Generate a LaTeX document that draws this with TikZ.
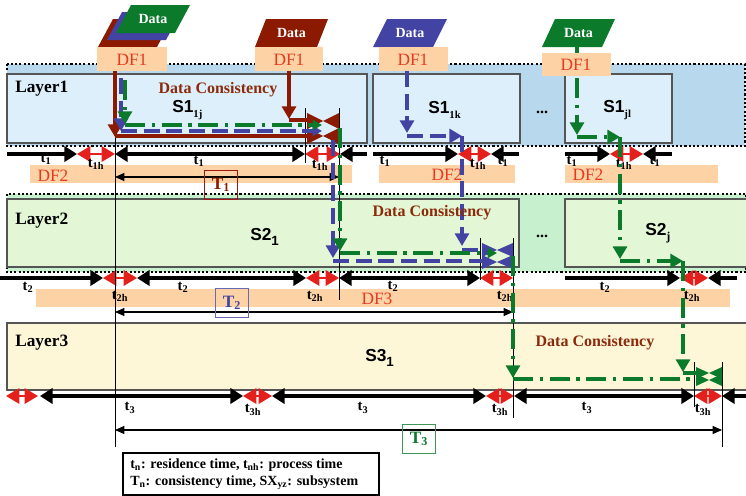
\documentclass[tikz,border=0pt]{standalone}
\usepackage{fontspec}
\setmainfont{Liberation Serif}
\setsansfont{Liberation Sans}
\usetikzlibrary{arrows.meta}
\definecolor{dred}{HTML}{8B1A00}
\definecolor{dblue}{HTML}{4343A3}
\definecolor{dgreen}{HTML}{0B7A2B}
\definecolor{peach}{HTML}{FDD3A6}
\definecolor{dftext}{HTML}{E8391F}
\definecolor{tred}{HTML}{E3201B}
\definecolor{lonebg}{HTML}{B8D8EE}
\definecolor{lonebox}{HTML}{DDEFFA}
\definecolor{ltwobg}{HTML}{C6F0CE}
\definecolor{ltwobox}{HTML}{E3F6D5}
\definecolor{lthree}{HTML}{FDF6D7}
\definecolor{dctext}{HTML}{8B2B0B}
\definecolor{boxline}{HTML}{555555}
\newcommand\tlb[1]{t\textsubscript{#1}}
\newcommand\mybow[6]{%
  \fill[#1] (#2,#5-#6) -- (#3,#5) -- (#2,#5+#6) -- cycle;
  \fill[#1] (#4,#5-#6) -- (#3,#5) -- (#4,#5+#6) -- cycle;}
\newcommand\datashape[5]{% color, bx, by, w, s
  \fill[#1] (#2,#3) -- (#2+#4,#3) -- (#2+#4+#5,#3-28) -- (#2+#5,#3-28) -- cycle;}
\newcommand\datapg[6]{% color, bx, by, w, s, name
  \datashape{#1}{#2}{#3}{#4}{#5}
  \node[datatxt] (#6) at (#2+#4/2+#5/2,#3-14) {Data};}
\begin{document}
\begin{tikzpicture}[x=0.75pt,y=-0.75pt,
  bk/.tip={Triangle[length=9.5pt,width=11.5pt]},
  rd/.tip={Triangle[length=10pt,width=11.5pt]},
  fh/.tip={Triangle[length=9.5pt,width=10.5pt]},
  sh/.tip={Triangle[length=7pt,width=7.5pt]},
  th/.tip={Triangle[length=7pt,width=6pt]},
  tline/.style={line width=2.6pt,black},
  rarr/.style={tred,line width=1.6pt,{rd}-{rd}},
  vline/.style={black,line width=0.6pt},
  band/.style={line width=1.6pt,dash pattern=on 1.6pt off 1.6pt},
  lbox/.style={draw=boxline,line width=0.8pt},
  tlab/.style={font=\bfseries\fontsize{11}{11}\selectfont,inner sep=0pt},
  dftx/.style={text=dftext,font=\fontsize{13}{13}\selectfont,inner sep=0pt},
  datatxt/.style={text=white,font=\bfseries\fontsize{10.5}{10.5}\selectfont,inner sep=0pt},
  laytx/.style={font=\bfseries\fontsize{13}{13}\selectfont,anchor=west,inner sep=0pt},
  dctx/.style={text=dctext,font=\bfseries\fontsize{12}{12}\selectfont,inner sep=0pt},
  stx/.style={font=\bfseries\fontsize{13}{13}\selectfont,anchor=west,inner sep=0pt},
  redflow/.style={dred,line width=2.6pt},
  blueflow/.style={dblue,line width=2.6pt,dash pattern=on 12pt off 5pt},
  greenflow/.style={dgreen,line width=2.6pt,dash pattern=on 15pt off 5pt on 2.5pt off 5pt},
  tbox/.style={line width=0.8pt,minimum width=25pt,minimum height=22pt,inner sep=0pt,font=\bfseries\fontsize{13}{13}\selectfont}
]
\useasboundingbox (0,0) rectangle (746,496);
% ---- Layer 1
\fill[lonebg] (7,64) rectangle (745,146);
\draw[band] (7,64) rectangle (745,146);
\filldraw[lonebox,lbox] (7,74) rectangle (367,143);
\filldraw[lonebox,lbox] (373,74) rectangle (520,143);
\filldraw[lonebox,lbox] (565,74) rectangle (672,143);
% ---- Layer 2
\fill[ltwobg] (7,194) rectangle (746,272);
\draw[band] (7,194) rectangle (746,272);
\filldraw[ltwobox,lbox] (7,199) rectangle (519,267);
\filldraw[ltwobox,lbox] (565,199) rectangle (748,267);
% ---- Layer 3
\filldraw[lthree,lbox] (7,323) rectangle (748,390);
% ---- DF bars
\fill[peach] (30,165) rectangle (352,183);
\fill[peach] (379,165) rectangle (515,183);
\fill[peach] (565,165) rectangle (718,183);
\fill[peach] (36,289) rectangle (730,307);
\node[dftx] (df2a) at (53,176) {DF2};
\node[dftx] (df2b) at (447,175) {DF2};
\node[dftx] (df2c) at (588,175) {DF2};
\node[dftx] (df3) at (377,299) {DF3};
% ---- timeline row 1
\draw[tline,-bk] (7,154) -- (77,154);
\draw[rarr] (77,154) -- (115,154);
\draw[tline,bk-bk] (115,154) -- (305,154);
\draw[rarr] (305,154) -- (340,154);
\draw[tline,bk-] (340,154) -- (367,154);
\draw[tline,-bk] (373,154) -- (458,154);
\draw[rarr] (458,154) -- (491,154);
\draw[tline,bk-] (491,154) -- (519,154);
\draw[tline,-bk] (565,154) -- (610,154);
\draw[rarr] (610,154) -- (643,154);
\draw[tline,bk-] (643,154) -- (672,154);
% ---- timeline row 2
\draw[tline,-bk] (0,278) -- (103,278);
\draw[rarr] (103,278) -- (137,278);
\draw[tline,bk-bk] (137,278) -- (306,278);
\draw[rarr] (306,278) -- (339,278);
\draw[tline,bk-bk] (339,278) -- (480,278);
\draw[rarr] (480,278) -- (513,278);
\draw[tline,-bk] (565,278) -- (680,278);
\draw[rarr] (680,278) -- (708,278);
\draw[tline,bk-] (708,278) -- (737,278);
% ---- timeline row 3
\draw[rarr] (6,396) -- (38,396);
\draw[tline,bk-bk] (40,396) -- (243,396);
\draw[rarr] (243,396) -- (272,396);
\draw[tline,bk-bk] (272,396) -- (486,396);
\draw[rarr] (486,396) -- (514,396);
\draw[tline,bk-bk] (514,396) -- (694,396);
\draw[rarr] (694,396) -- (722,396);
\draw[tline,bk-] (722,396) -- (748,396);
% ---- labels row 1
\node[tlab] at (46,159) {\tlb{1}};
\node[tlab] at (96,164) {\tlb{1h}};
\node[tlab] at (199,161) {\tlb{1}};
\node[tlab] at (320,165) {\tlb{1h}};
\node[tlab] at (385,161) {\tlb{1}};
\node[tlab] at (478,164) {\tlb{1h}};
\node[tlab] at (503,161) {\tlb{1}};
\node[tlab] at (572,161) {\tlb{1}};
\node[tlab] at (624,164) {\tlb{1h}};
\node[tlab] at (655,161) {\tlb{1}};
% ---- labels row 2
\node[tlab] at (28,287) {\tlb{2}};
\node[tlab] at (120,296) {\tlb{2h}};
\node[tlab] at (183,287) {\tlb{2}};
\node[tlab] at (315,296) {\tlb{2h}};
\node[tlab] at (393,286) {\tlb{2}};
\node[tlab] at (505,296) {\tlb{2h}};
\node[tlab] at (605,287) {\tlb{2}};
\node[tlab] at (692,296) {\tlb{2h}};
% ---- labels row 3
\node[tlab] at (130,408) {\tlb{3}};
\node[tlab] at (253,410) {\tlb{3h}};
\node[tlab] at (363,408) {\tlb{3}};
\node[tlab] at (500,410) {\tlb{3h}};
\node[tlab] at (587,408) {\tlb{3}};
\node[tlab] at (703,410) {\tlb{3h}};
% ---- thin verticals
\draw[vline] (115,134) -- (115,447);
\draw[vline] (305,108) -- (305,163);
\draw[vline] (339,108) -- (339,300);
\draw[vline] (480,238) -- (480,280);
\draw[vline] (513,238) -- (513,418);
\draw[vline] (694,362) -- (694,407);
\draw[vline] (722,362) -- (722,447);
% ---- consistency-time arrows
\draw[line width=0.8pt,th-th] (115,177) -- (339,177);
\draw[line width=0.8pt,th-th] (115,312) -- (513,312);
\draw[line width=0.8pt,th-th] (115,430) -- (722,430);
\node[tbox,draw=tred!70!black,text=dred] (T1) at (221,185) {T\textsubscript{1}};
\node[tbox,draw=dblue!80,text=dblue] (T2) at (232,303) {T\textsubscript{2}};
\node[tbox,draw=dgreen!80,text=dgreen] (T3) at (419,439) {T\textsubscript{3}};
% ---- data flows: group 1
\draw[redflow,-fh] (115,71) -- (115,137);
\draw[redflow] (115,136) -- (308,136);
\draw[redflow,-fh] (289,71) -- (289,119);
\draw[redflow] (289,120) -- (308,120);
\mybow{dred}{307}{323}{339}{121}{8}
\mybow{dred}{307}{323}{339}{136}{8}
\draw[blueflow,-fh] (121,78) -- (121,131);
\draw[blueflow,-sh] (121,131) -- (322,131);
\draw[greenflow,-fh] (125,80) -- (125,124);
\draw[greenflow,-sh] (125,125) -- (322,125);
\draw[blueflow,-fh] (333,140) -- (333,258);
\draw[blueflow] (333,261) -- (483,261);
\draw[greenflow,-fh] (340,128) -- (340,251);
% group 2 blue
\draw[blueflow,-fh] (407,71) -- (407,133);
\draw[blueflow,-fh] (407,136) -- (462,136);
\draw[blueflow,-fh] (462,136) -- (462,246);
\draw[blueflow] (462,250) -- (483,250);
\mybow{dblue}{482}{497}{513}{250}{7}
\mybow{dblue}{482}{497}{513}{262}{7}
\draw[greenflow,-sh] (340,253) -- (497,253);
% green continues to layer 3
\draw[greenflow,-fh] (513,256) -- (513,378);
\draw[greenflow] (513,379) -- (697,379);
% group j green
\draw[dgreen,line width=2.4pt] (577,47) -- (577,53);
\draw[greenflow,-fh] (577,78) -- (577,135);
\draw[greenflow,-fh] (577,137) -- (620,137);
\draw[greenflow,-fh] (620,137) -- (620,259);
\draw[greenflow,-fh] (620,261) -- (683,261);
\draw[greenflow,-fh] (683,261) -- (683,372);
\draw[greenflow] (683,373) -- (697,373);
\mybow{dgreen}{696}{709}{722}{373}{6}
\mybow{dgreen}{696}{709}{722}{380}{6}
% ---- Data parallelograms
\datashape{dred}{98}{47}{59}{15}
\datashape{dblue}{107}{40}{59}{15}
\datapg{dgreen}{116}{33}{59}{15}{d1}
\datapg{dred}{255}{47}{62}{11}{d2}
\datapg{dblue}{373}{47}{60}{14}{d3}
\datapg{dgreen}{542}{47}{60}{13}{d4}
% ---- DF1 boxes
\fill[peach] (97,47) rectangle (167,71);
\fill[peach] (255,47) rectangle (323,71);
\fill[peach] (379,47) rectangle (448,71);
\fill[peach] (542,53) rectangle (611,76);
\node[dftx] (f1) at (132,60) {DF1};
\node[dftx] (f2) at (289,60) {DF1};
\node[dftx] (f3) at (413,60) {DF1};
\node[dftx] (f4) at (576,65) {DF1};
% ---- texts
\node[laytx] (L1) at (15,89) {Layer1};
\node[laytx] (L2) at (15,221) {Layer2};
\node[laytx] (L3) at (15,343) {Layer3};
\node[dctx] (dc1) at (218,90) {Data Consistency};
\node[dctx] (dc2) at (432,213) {Data Consistency};
\node[dctx] (dc3) at (595,343) {Data Consistency};
\node[stx] (s11) at (172,110) {\sffamily S1\raisebox{-4pt}{\rmfamily\fontsize{8}{8}\selectfont 1j}};
\node[stx] (s12) at (428,110) {\sffamily S1\raisebox{-4pt}{\rmfamily\fontsize{8}{8}\selectfont 1k}};
\node[stx] (s13) at (603,110) {\sffamily S1\raisebox{-4pt}{\rmfamily\fontsize{8}{8}\selectfont jl}};
\node[stx] (s21) at (250,237) {\sffamily S2\raisebox{-4pt}{\fontsize{10}{10}\selectfont 1}};
\node[stx] (s22) at (645,233) {\sffamily S2\raisebox{-4pt}{\rmfamily\fontsize{9}{9}\selectfont j}};
\node[stx] (s31) at (365,358) {\sffamily S3\raisebox{-4pt}{\fontsize{10}{10}\selectfont 1}};
\node[font=\bfseries\fontsize{12}{12}\selectfont] (dots1) at (542,112) {...};
\node[font=\bfseries\fontsize{12}{12}\selectfont] (dots2) at (542,236) {...};
% ---- legend
\draw[line width=0.8pt] (123,453) rectangle (379,495);
\node[anchor=west,align=left,inner sep=0pt,font=\bfseries\fontsize{10.5}{12.5}\selectfont] (leg) at (130,474)
  {t\textsubscript{n}: residence time, t\textsubscript{nh}: process time\\
   T\textsubscript{n}: consistency time, SX\textsubscript{yz}: subsystem};
\end{tikzpicture}
\end{document}
